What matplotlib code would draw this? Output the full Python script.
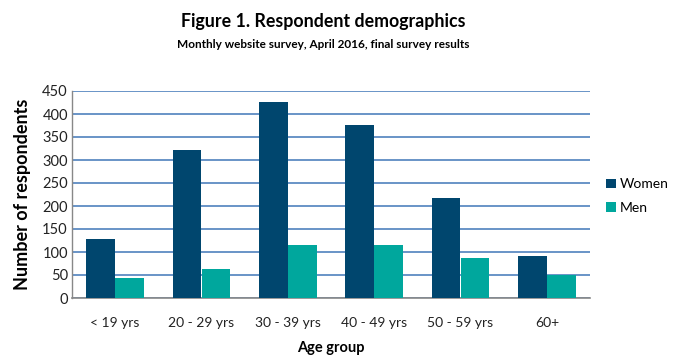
import matplotlib
matplotlib.use("Agg")
import matplotlib.pyplot as plt
import numpy as np

categories = ["< 19 yrs", "20 - 29 yrs", "30 - 39 yrs", "40 - 49 yrs", "50 - 59 yrs", "60+"]
women = [128, 322, 427, 377, 218, 91]
men = [44, 63, 115, 115, 87, 49]
yticks = [0, 50, 100, 150, 200, 250, 300, 350, 400, 450]

plt.rcParams['font.family'] = ['Lato', 'DejaVu Sans']

W, H = 677, 361
fig = plt.figure(figsize=(W/100, H/100), dpi=100)
ax = fig.add_axes([72/W, 1-298/H, (590-72)/W, (298-91)/H])

x = np.arange(len(categories))
bw = 0.335
c_w = "#00466E"
c_m = "#00A79D"
ax.bar(x - bw/2, women, bw, color=c_w, label="Women", zorder=3)
ax.bar(x + bw/2, men, bw, color=c_m, label="Men", zorder=3)

ax.set_xlim(-0.5, len(categories) - 0.5)
ax.set_ylim(0, 450)
ax.set_yticks(yticks)
ax.set_yticklabels([str(v) for v in yticks], fontsize=10.5, color="#222222")
ax.set_xticks(x)
ax.set_xticklabels(categories, fontsize=10, color="#222222")
ax.tick_params(axis='both', length=0)
ax.tick_params(axis='x', pad=14)
ax.tick_params(axis='y', pad=3)
ax.yaxis.grid(True, color="#4F81BD", linewidth=1.2, zorder=0)
for s in ["top", "right"]:
    ax.spines[s].set_visible(False)
ax.spines["left"].set_color("#888888")
ax.spines["bottom"].set_color("#888888")
ax.spines["bottom"].set_linewidth(1.2)
ax.spines["left"].set_linewidth(1.0)

ax.set_ylabel("Number of respondents", fontsize=13, fontweight="bold", labelpad=8)
ax.set_xlabel("Age group", fontsize=10.5, fontweight="bold", labelpad=8)

fig.text(323/W, 1-22/H, "Figure 1. Respondent demographics", ha="center", va="center",
         fontsize=12.8, fontweight="bold")
fig.text(323/W, 1-44/H, "Monthly website survey, April 2016, final survey results", ha="center",
         va="center", fontsize=8.5, fontweight="bold")

leg = fig.legend(loc="center left", bbox_to_anchor=(606/W, 1-196/H), frameon=False,
                 fontsize=10, handlelength=0.7, handleheight=0.7, handletextpad=0.3,
                 labelspacing=0.8, borderaxespad=0, borderpad=0)

fig.savefig("out.png", dpi=100)
